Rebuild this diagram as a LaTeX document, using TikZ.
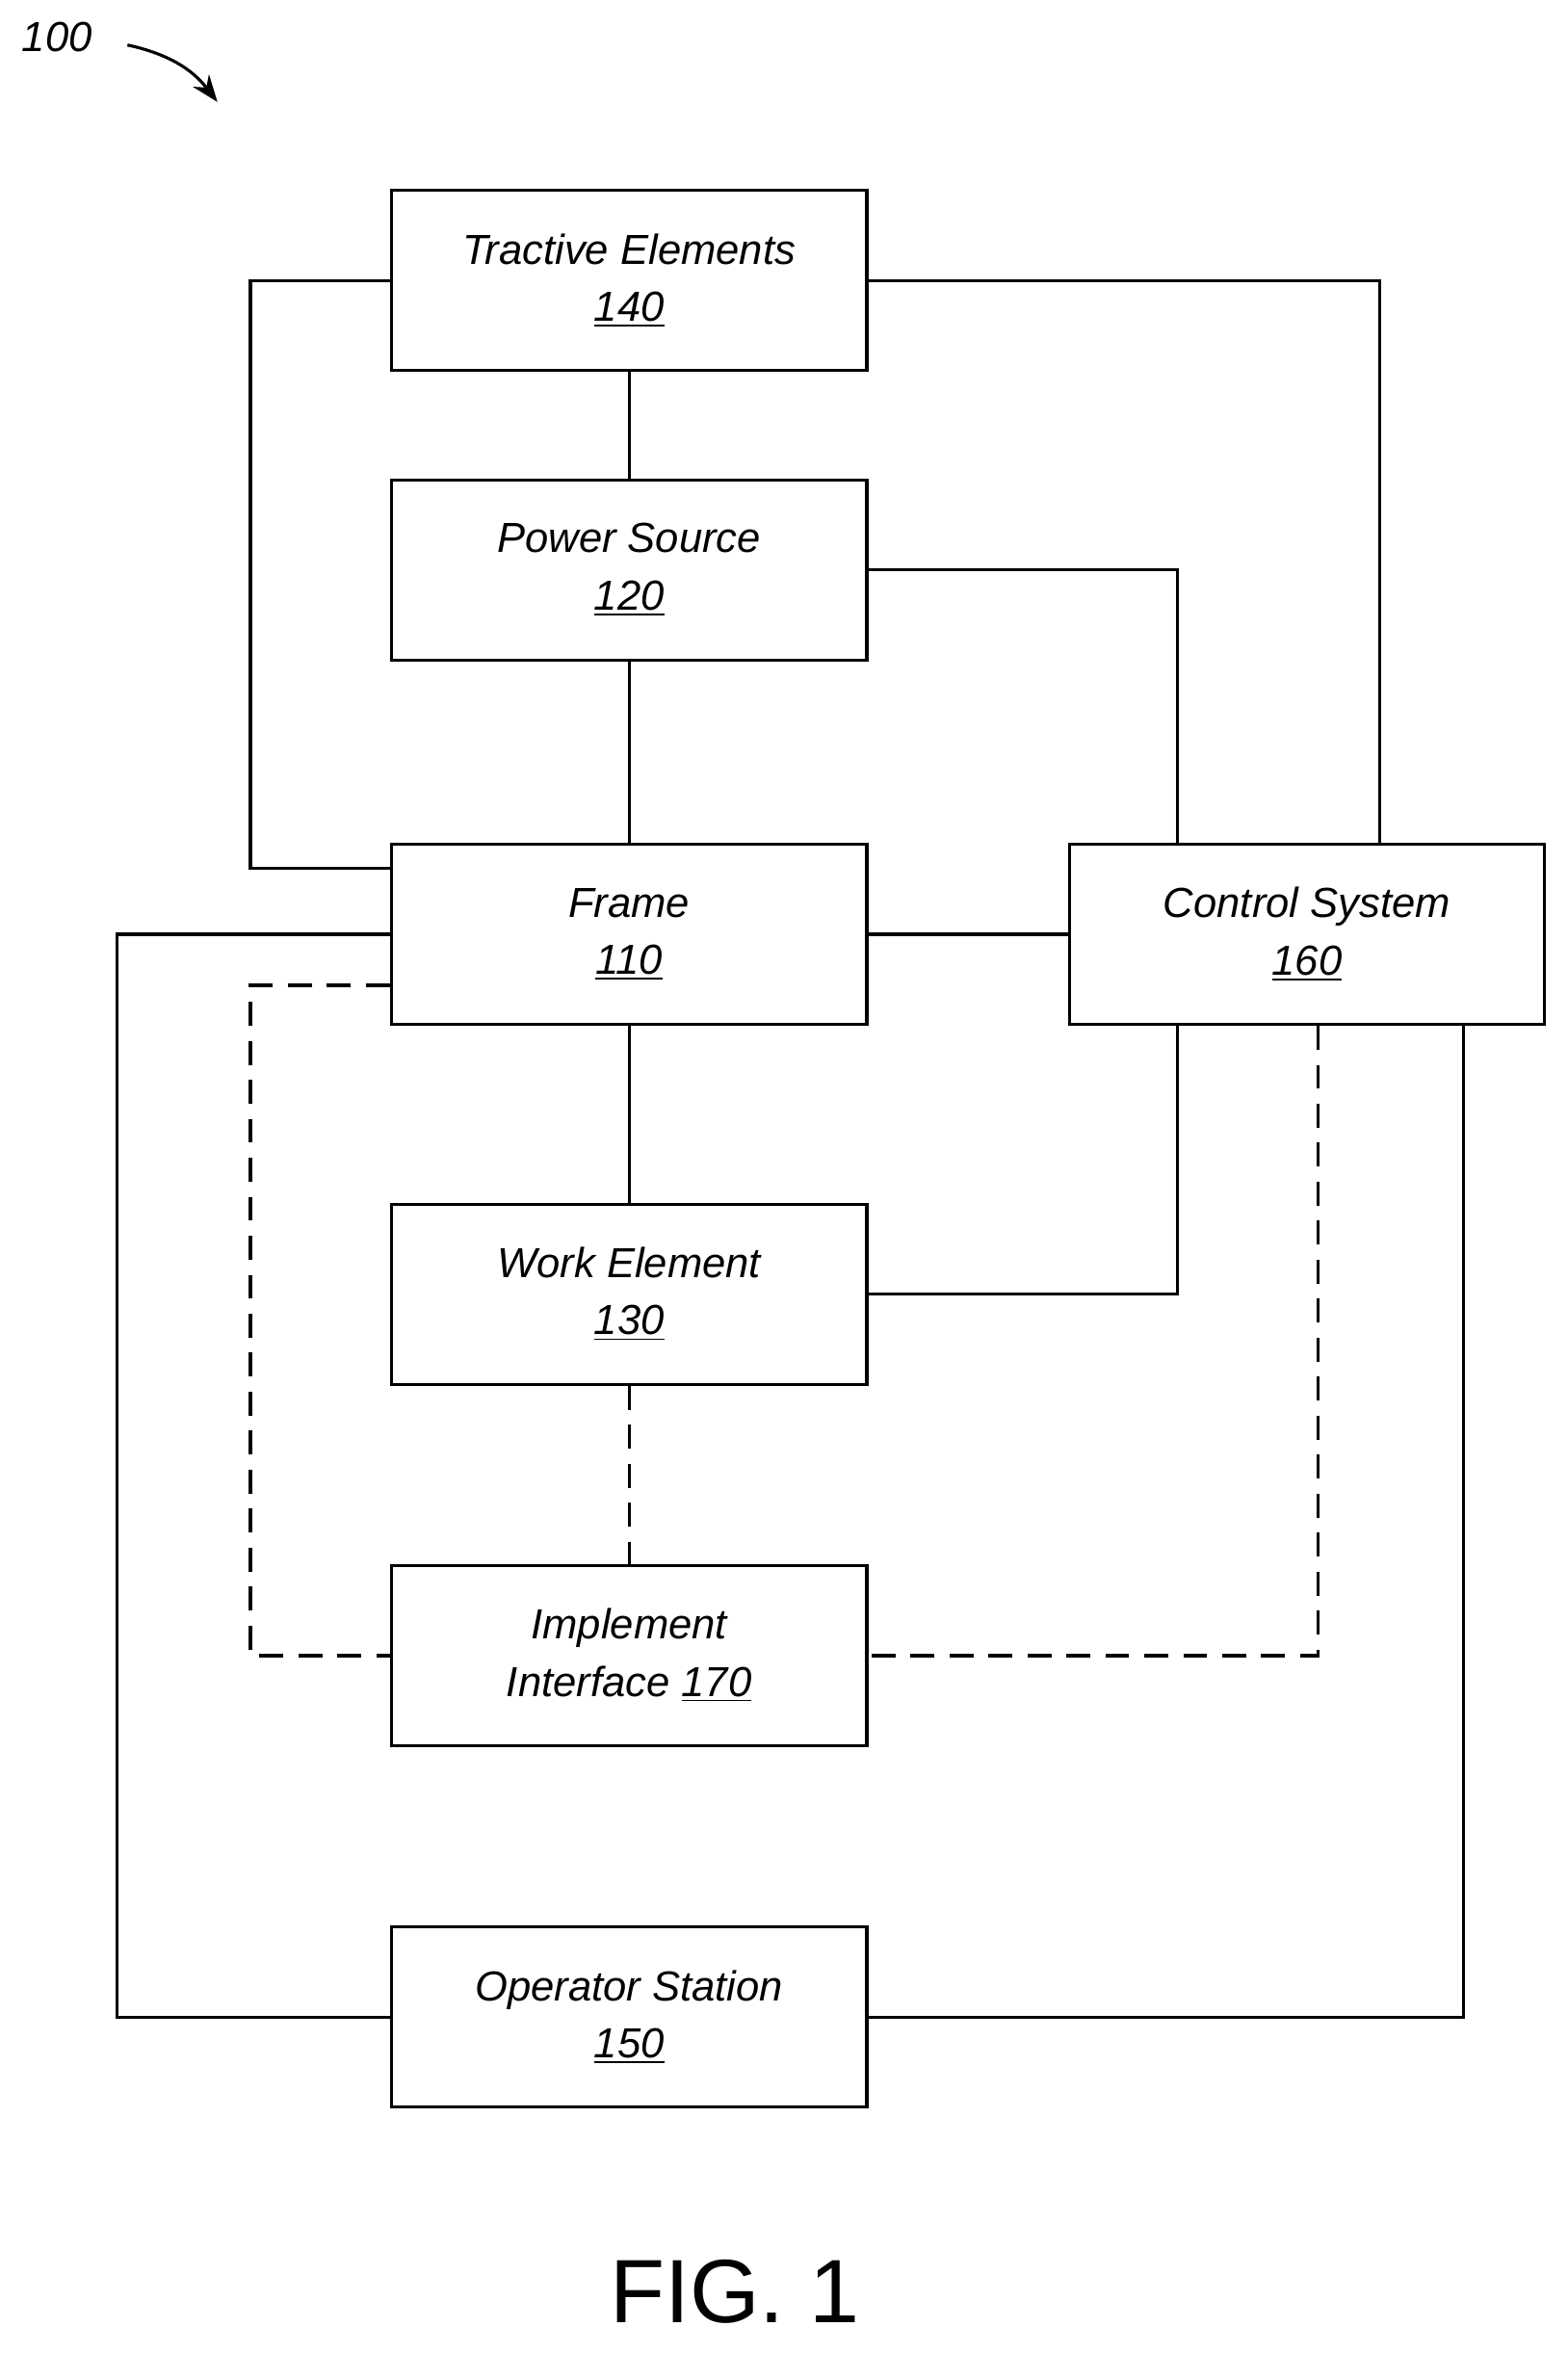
\documentclass[tikz,border=0pt]{standalone}
\usepackage{fontspec}
\setmainfont{Liberation Sans}
\usetikzlibrary{arrows.meta}
\begin{document}
\begin{tikzpicture}[x=0.5pt,y=-0.5pt,line width=1pt,
  box/.style={draw,minimum width=158.5pt,minimum height=60pt,align=center,font=\itshape\fontsize{14}{19}\selectfont,inner sep=0pt},
  dsh/.style={dash pattern=on 8pt off 5pt}]
\useasboundingbox (0,0) rectangle (1045,1569);
\node[box] (te) at (419.5,187) {Tractive Elements\\\underline{140}};
\node[box] (ps) at (419.5,380) {Power Source\\\underline{120}};
\node[box] (fr) at (419.5,623) {Frame\\\underline{110}};
\node[box] (cs) at (871.5,623) {Control System\\\underline{160}};
\node[box] (we) at (419.5,863) {Work Element\\\underline{130}};
\node[box] (ii) at (419.5,1104) {Implement\\Interface \underline{170}};
\node[box] (os) at (419.5,1345) {Operator Station\\\underline{150}};
\node[font=\itshape\fontsize{14}{16}\selectfont] (lbl) at (38,25) {100};
\coordinate (a1) at (85,30);
\coordinate (a2) at (145,68);
\draw[-{Stealth[length=9pt]}] (a1) to[bend left=20] (a2);
\node[font=\fontsize{30}{32}\selectfont] (fig) at (490,1528) {FIG. 1};
\draw (te) -- (ps);
\draw (ps) -- (fr);
\draw (fr) -- (we);
\draw (fr) -- (cs);
\draw (te.west) -- (167,187) -- (167,579) -- (fr.west |- 0,579);
\draw (te.east) -- (920,187) -- (cs.north -| 920,0);
\draw (ps.east) -- (785,380) -- (cs.north -| 785,0);
\draw (fr.west) -- (78,623) -- (78,1345) -- (os.west);
\draw (cs.south -| 976,0) -- (976,1345) -- (os.east);
\draw (cs.south -| 785,0) -- (785,863) -- (we.east);
\draw[dsh] (we) -- (ii);
\draw[dsh] (fr.west |- 0,657) -- (167,657) -- (167,1104) -- (ii.west);
\draw[dsh] (cs.south -| 879,0) -- (879,1104) -- (ii.east);
\end{tikzpicture}
\end{document}
